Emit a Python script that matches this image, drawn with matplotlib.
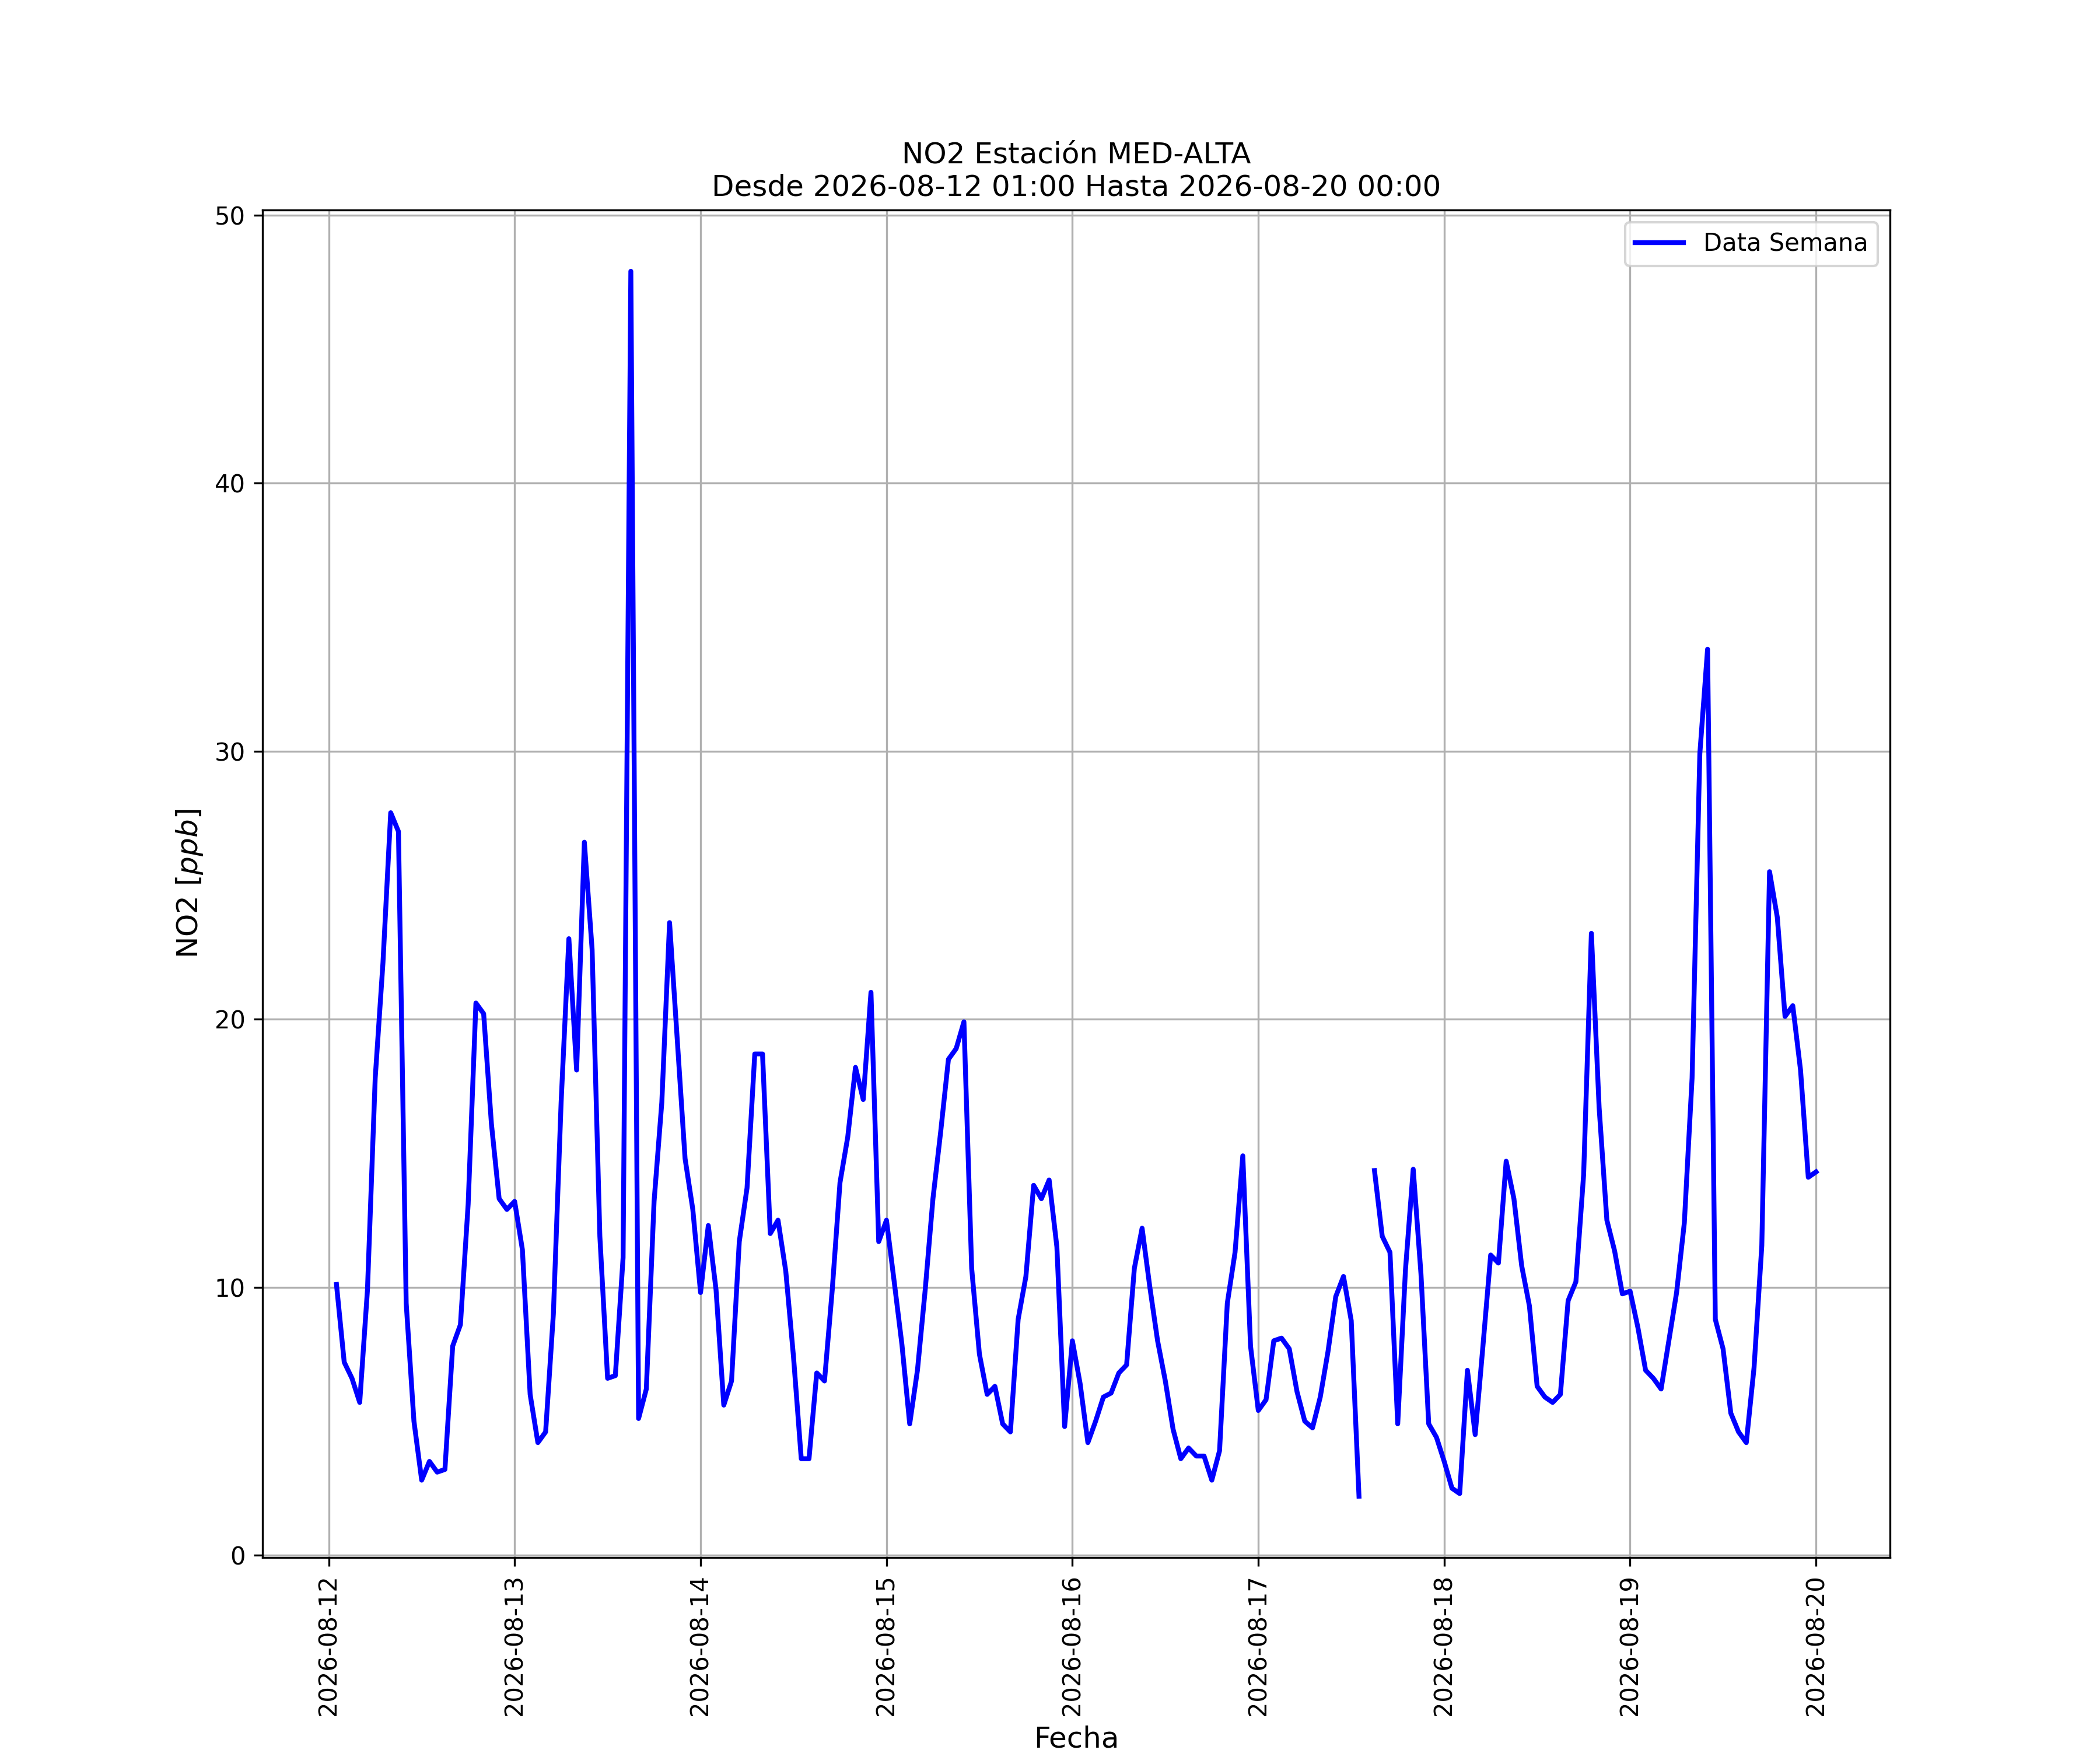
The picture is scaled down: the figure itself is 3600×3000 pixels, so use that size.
import numpy as np
import pandas as pd
import matplotlib
matplotlib.use("Agg")
import matplotlib.pyplot as plt
import matplotlib.dates as mdates

start = "2026-08-12 01:00"
end_label = "2026-08-20 00:00"
station = "MED-ALTA"

nan = np.nan
day12 = [10.1, 7.2, 6.6, 5.7, 9.9, 17.8, 22.1, 27.7, 27.0, 9.4, 5.0, 2.8,
         3.5, 3.1, 3.2, 7.8, 8.6, 13.1, 20.6, 20.2, 16.1, 13.3, 12.9]
day13 = [13.2, 11.4, 6.0, 4.2, 4.6, 9.0, 16.9, 23.0, 18.1, 26.6, 22.6, 11.9,
         6.6, 6.7, 11.1, 47.9, 5.1, 6.2, 13.2, 16.9, 23.6, 19.2, 14.8, 12.9]
day14 = [9.8, 12.3, 9.9, 5.6, 6.5, 11.7, 13.7, 18.7, 18.7, 12.0, 12.5, 10.6,
         7.4, 3.6, 3.6, 6.8, 6.5, 9.9, 13.9, 15.6, 18.2, 17.0, 21.0, 11.7]
day15 = [12.5, 10.2, 7.85, 4.9, 6.9, 9.9, 13.3, 15.8, 18.5, 18.9, 19.9, 10.7,
         7.5, 6.0, 6.3, 4.9, 4.6, 8.8, 10.4, 13.8, 13.3, 14.0, 11.5, 4.8]
day16 = [8.0, 6.4, 4.2, 5.0, 5.9, 6.05, 6.8, 7.1, 10.7, 12.2, 10.0, 8.0,
         6.5, 4.7, 3.6, 4.0, 3.7, 3.7, 2.8, 3.9, 9.4, 11.3, 14.9, 7.8]
day17 = [5.4, 5.8, 8.0, 8.1, 7.7, 6.1, 5.0, 4.75, 5.9, 7.6, 9.65, 10.4,
         8.75, 2.2, nan, 14.35, 11.9, 11.3, 4.9, 10.65, 14.4, 10.5, 4.9, 4.4]
day18 = [3.5, 2.5, 2.3, 6.9, 4.5, 7.8, 11.2, 10.9, 14.7, 13.3, 10.8, 9.3,
         6.3, 5.9, 5.7, 6.0, 9.5, 10.2, 14.2, 23.2, 16.7, 12.5, 11.35, 9.75]
day19 = [9.85, 8.5, 6.9, 6.6, 6.2, 8.0, 9.8, 12.4, 17.8, 29.9, 33.8, 8.8,
         7.7, 5.3, 4.6, 4.2, 7.0, 11.55, 25.5, 23.8, 20.1, 20.5, 18.1, 14.1]
day20 = [14.3]

values = np.array(day12 + day13 + day14 + day15 + day16 + day17 + day18 + day19 + day20)
times = pd.date_range(start, periods=len(values), freq="h")

fig, ax = plt.subplots(figsize=(12, 10), dpi=300)
ax.plot(times, values, color="blue", linewidth=2, label="Data Semana")
ax.set_title(f"NO2 Estación {station}\nDesde {start} Hasta {end_label}", fontsize=12)
ax.set_xlabel("Fecha", fontsize=12)
ax.set_ylabel("NO2 [$ppb$]", fontsize=12)
ax.xaxis.set_major_locator(mdates.DayLocator())
ax.xaxis.set_major_formatter(mdates.DateFormatter("%Y-%m-%d"))
plt.setp(ax.get_xticklabels(), rotation=90)
ax.grid(True)
ax.legend(loc="upper right")
fig.savefig("out.png", dpi=300)
